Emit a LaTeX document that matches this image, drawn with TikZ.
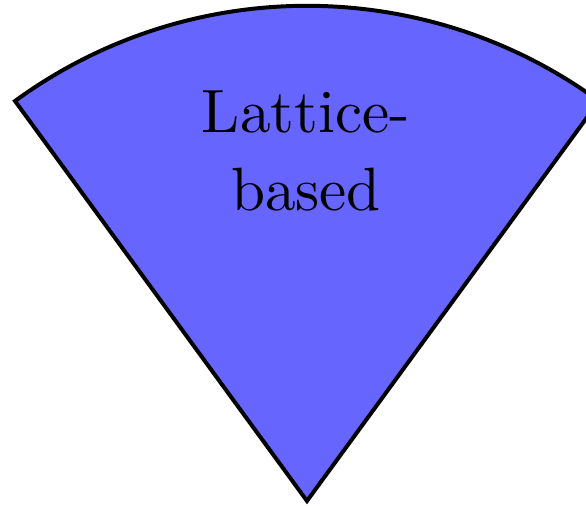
\documentclass[tikz,border=0pt]{standalone}
\begin{document}
\begin{tikzpicture}[x=0.1634pt,y=0.1634pt,
  wedge/.style={draw=black,fill=blue!60,line width=0.65pt,line join=miter},
  lbl/.style={align=center,font=\fontsize{10}{12.75}\selectfont,inner sep=0pt}]
\useasboundingbox (0,0) rectangle (586,-506);
\coordinate (apex) at (307,-501);
\draw[wedge] (apex) -- ++(126.13:495.2) arc[start angle=126.13,end angle=53.87,radius=495.2] -- cycle;
\node[lbl,anchor=north] (txt) at (306,-89.3) {Lattice-\\based};
\end{tikzpicture}
\end{document}
